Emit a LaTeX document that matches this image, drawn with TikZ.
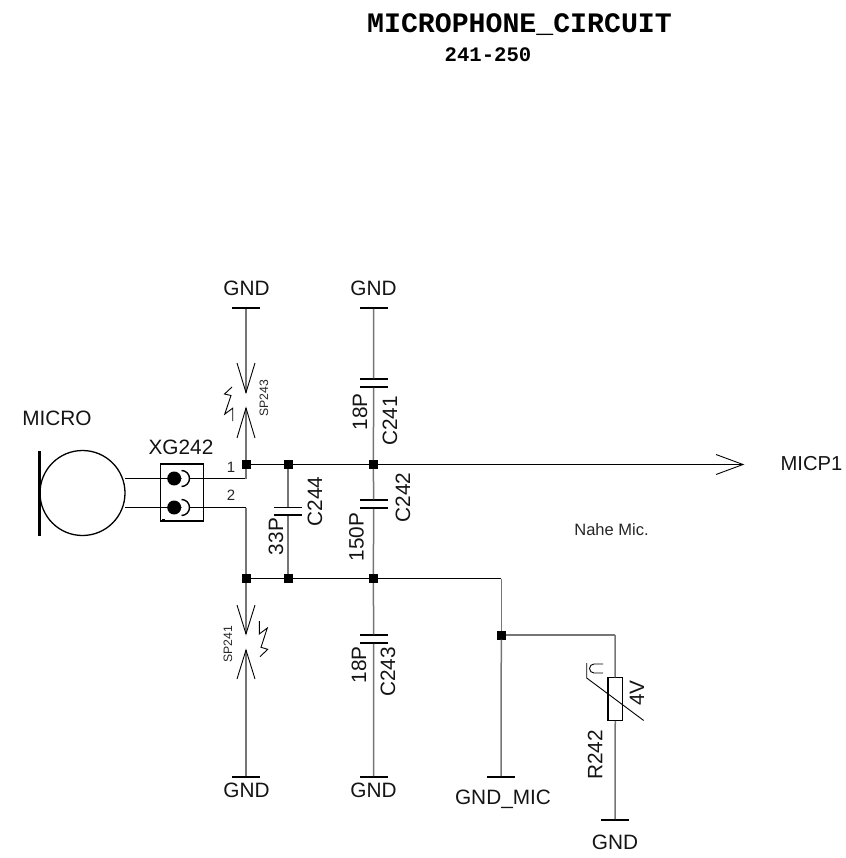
\documentclass[tikz,border=0pt]{standalone}
\usepackage{fontspec}
\setmainfont{Liberation Sans}
\newfontfamily\titlefont{Liberation Mono}
\definecolor{wiregrey}{HTML}{757575}
\tikzset{
  x=1pt,y=-1pt,
  hwire/.style={draw=black,line width=1pt},
  vwire/.style={draw=wiregrey,line width=1.5pt},
  thin sym/.style={draw=black,line width=0.9pt},
  junction/.style={rectangle,fill=black,minimum size=9pt,inner sep=0pt,outer sep=0pt},
  gndbar/.style={rectangle,fill=black,minimum width=28pt,minimum height=1.6pt,inner sep=0pt,outer sep=0pt},
  plate/.style={rectangle,fill=black,minimum width=28pt,minimum height=1.5pt,inner sep=0pt,outer sep=0pt},
  lab/.style={inner sep=0pt,outer sep=0pt,font=\fontsize{20.8}{24}\selectfont,text=black!92},
  vlab/.style={lab,rotate=90},
  tiny lab/.style={inner sep=0pt,font=\fontsize{12.2}{14}\selectfont,text=black!85},
  pin lab/.style={inner sep=0pt,font=\fontsize{15}{16}\selectfont,text=black!85},
}
\begin{document}
\begin{tikzpicture}
\useasboundingbox (0,0) rectangle (845,858);
% titles
\node[inner sep=0pt,text depth=0pt,font=\titlefont\bfseries\fontsize{28.2}{30}\selectfont] (title) at (519.5,22.7) {MICROPHONE\_CIRCUIT};
\node[inner sep=0pt,font=\titlefont\bfseries\fontsize{20.6}{24}\selectfont] (sub) at (488,55) {241-250};
% junctions
\node[junction] (j1) at (246,464.5) {};
\node[junction] (j2) at (288,464.5) {};
\node[junction] (j3) at (373.3,464.5) {};
\node[junction] (j4) at (246,578.5) {};
\node[junction] (j5) at (288,578.5) {};
\node[junction] (j6) at (373.3,578.5) {};
\node[junction] (j7) at (501.3,635) {};
% ground bars
\node[gndbar] (g1) at (246,308) {};
\node[gndbar] (g2) at (373.5,308) {};
\node[gndbar] (g3) at (246,777) {};
\node[gndbar] (g4) at (373.5,777) {};
\node[gndbar] (g5) at (501,777) {};
\node[gndbar] (g6) at (615,820) {};
% capacitor plates
\node[plate] (c1a) at (373.7,379) {};
\node[plate] (c1b) at (373.7,387) {};
\node[plate] (c2a) at (373.7,500) {};
\node[plate] (c2b) at (373.7,508) {};
\node[plate] (c3a) at (373.7,635) {};
\node[plate] (c3b) at (373.7,643) {};
\node[plate] (c4a) at (288,507.5) {};
\node[plate] (c4b) at (288,515) {};
% microphone
\node[circle,draw=black,line width=1.3pt,minimum size=85pt,inner sep=0pt,outer sep=0pt] (mic) at (82.5,493) {};
\node[rectangle,fill=black,minimum width=2.4pt,minimum height=85pt,inner sep=0pt] (micbar) at (39.5,493) {};
% connector
\node[rectangle,draw=black,line width=1.3pt,minimum width=43pt,minimum height=57pt,inner sep=0pt,outer sep=0pt] (xg) at (182,492.5) {};
\coordinate (m1) at (125,478.5);
\coordinate (m2) at (125,507.5);
\coordinate (c1) at (246,478.5);
\coordinate (c2) at (246,507.5);
\draw[hwire] (m1) -- (c1);
\draw[hwire] (m2) -- (c2);
\draw[vwire] (c1) -- (j1);
\draw[vwire] (c2) -- (j4);
\node[circle,fill=black,minimum size=14pt,inner sep=0pt] (p1) at (174.2,478.5) {};
\node[circle,fill=black,minimum size=14pt,inner sep=0pt] (p2) at (174.2,507.5) {};
\fill[white] (181.5,470.5) arc[start angle=90,end angle=-90,radius=8pt] -- cycle;
\fill[white] (181.5,499.5) arc[start angle=90,end angle=-90,radius=8pt] -- cycle;
\draw[thin sym,line width=1.4pt] (181.5,470.5) arc[start angle=90,end angle=-90,radius=8pt];
\draw[thin sym,line width=1.4pt] (181.5,499.5) arc[start angle=90,end angle=-90,radius=8pt];
\draw[thin sym] (162,519) -- (164.5,519);
% horizontal wires
\draw[hwire] (j1) -- (j2);
\draw[hwire] (j2) -- (j3);
\coordinate (tip) at (743,464.5);
\draw[hwire] (j3) -- (tip);
\draw[thin sym] (716,454.5) -- (tip) -- (716,474.5);
\draw[hwire] (j4) -- (j5);
\draw[hwire] (j5) -- (j6);
\coordinate (corner) at (501.3,578.5);
\draw[hwire] (j6) -- (corner);
\draw[vwire] (corner) -- (j7);
\draw[vwire] (j7) -- (g5);
% upper spark gap
\coordinate (s1a) at (246,392.5);
\coordinate (s1b) at (246,408);
\draw[vwire] (g1) -- (s1a);
\draw[vwire] (s1b) -- (j1);
\draw[thin sym] (237,363) -- (s1a) -- (255,363);
\draw[thin sym] (237,438) -- (s1b) -- (255,438);
\draw[thin sym] (232,387) -- (224.5,394) -- (231,395.5) -- (224.7,414.2) -- (232.7,408.2) -- (232.7,421.2);
% lower spark gap
\coordinate (s2a) at (246,634);
\coordinate (s2b) at (246,650);
\draw[vwire] (j4) -- (s2a);
\draw[vwire] (s2b) -- (g3);
\draw[thin sym] (237,605) -- (s2a) -- (255,605);
\draw[thin sym] (237,679) -- (s2b) -- (255,679);
\draw[thin sym] (259.3,621) -- (259.3,634) -- (267.3,628) -- (261,647.3) -- (267.7,649.3) -- (260,656.7);
% capacitors
\draw[vwire] (g2) -- (c1a);
\draw[vwire] (c1b) -- (j3);
\draw[vwire] (j3) -- (c2a);
\draw[vwire] (c2b) -- (j6);
\draw[vwire] (j6) -- (c3a);
\draw[vwire] (c3b) -- (g4);
\draw[vwire] (j2) -- (c4a);
\draw[vwire] (c4b) -- (j5);
% resistor
\node[rectangle,draw=black,line width=1.3pt,minimum width=14.5pt,minimum height=43.5pt,inner sep=0pt,outer sep=0pt] (r) at (615.3,699) {};
\coordinate (rc) at (615,635);
\draw[vwire] (j7) -- (rc);
\draw[vwire] (rc) -- (r);
\draw[vwire] (r) -- (g6);
\draw[thin sym] (586.7,663) -- (586.7,678) -- (643.7,720.5);
\draw[thin sym] (603,664) -- (594,664) arc[start angle=90,end angle=270,radius=4.5pt] -- (603,673);
% labels
\node[lab] (lg1) at (246.5,288) {GND};
\node[lab] (lg2) at (373.5,288) {GND};
\node[lab] (lg3) at (246.5,790) {GND};
\node[lab] (lg4) at (373.5,790) {GND};
\node[lab] (lg6) at (615,842) {GND};
\node[lab,text depth=0pt] (lg5) at (503,797.5) {GND\_MIC};
\node[lab] (lmic) at (57,418) {MICRO};
\node[lab] (lxg) at (181,447.5) {XG242};
\node[lab,font=\fontsize{20.2}{24}\selectfont] (lout) at (811.5,464) {MICP1};
\node[inner sep=0pt,font=\fontsize{16.5}{18}\selectfont,text=black!85] (note) at (611.5,530) {Nahe Mic.};
\node[pin lab] (n1) at (231,467) {1};
\node[pin lab] (n2) at (231,495) {2};
\node[tiny lab,rotate=90] (sp1) at (264,398) {SP243};
\node[tiny lab,rotate=90] (sp2) at (228,644) {SP241};
\node[vlab] (v1) at (360,412) {18P};
\node[vlab] (n241) at (390,421) {C241};
\node[vlab] (n242) at (403,497.5) {C242};
\node[vlab] (v2) at (356.5,537) {150P};
\node[vlab] (v3) at (276,536.5) {33P};
\node[vlab] (n244) at (315,501.5) {C244};
\node[vlab] (v4) at (359,665) {18P};
\node[vlab] (n243) at (388,672) {C243};
\node[vlab] (n242r) at (595,755) {R242};
\node[vlab] (v5) at (637,693) {4V};
\end{tikzpicture}
\end{document}
